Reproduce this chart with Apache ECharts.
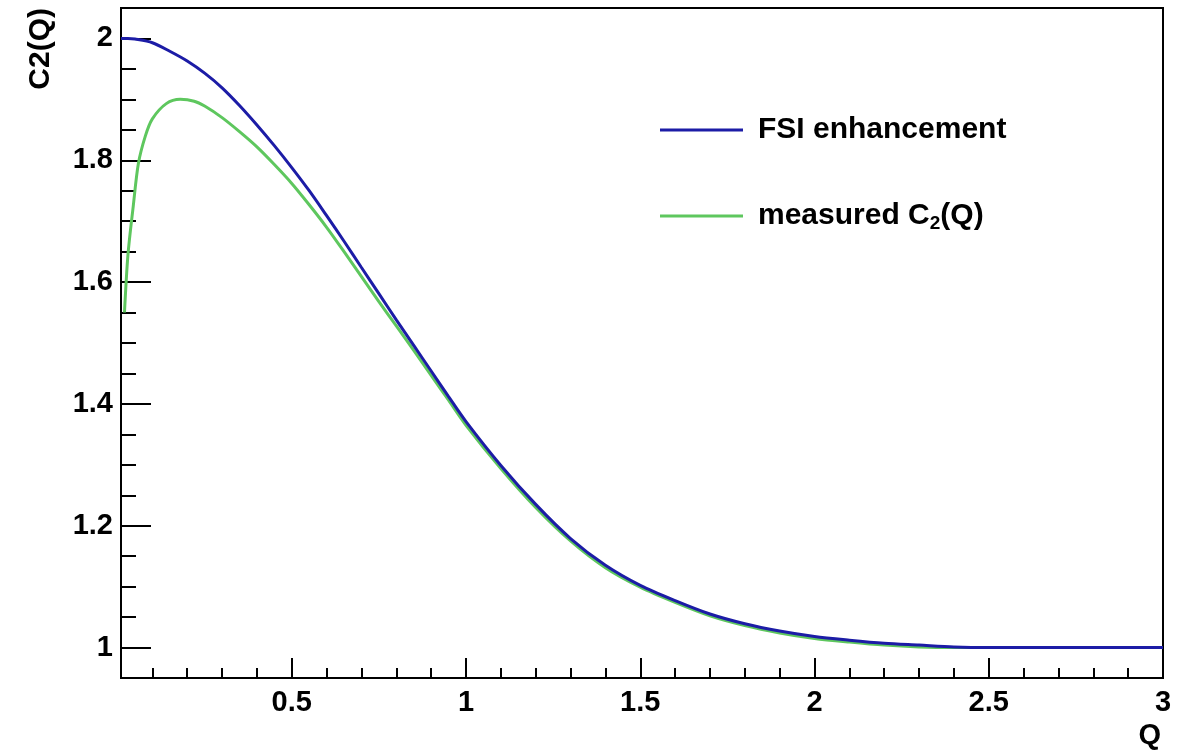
<!DOCTYPE html>
<html>
<head>
<meta charset="utf-8">
<script src="https://cdn.jsdelivr.net/npm/echarts@6/dist/echarts.min.js"></script>
<style>
html,body{margin:0;padding:0;background:#fff;}
#chart{width:1189px;height:750px;}
</style>
</head>
<body>
<div id="chart"></div>
<script>
// ---- data ----
const fsiQ = [0.01, 0.03, 0.05, 0.1, 0.15, 0.2, 0.25, 0.3, 0.35, 0.4, 0.45, 0.5, 0.55, 0.6, 0.65, 0.7, 0.75, 0.8, 0.85, 0.9, 0.95, 1.0, 1.1, 1.2, 1.3, 1.4, 1.5, 1.6, 1.7, 1.8, 1.9, 2.0, 2.1, 2.2, 2.3, 2.4, 2.5, 2.6, 2.8, 3.0];
const fsiC = [2.000, 2.000, 1.999, 1.993, 1.979, 1.963, 1.943, 1.919, 1.890, 1.858, 1.824, 1.788, 1.750, 1.709, 1.667, 1.624, 1.581, 1.538, 1.496, 1.454, 1.412, 1.371, 1.299, 1.235, 1.179, 1.135, 1.102, 1.077, 1.055, 1.039, 1.027, 1.018, 1.012, 1.007, 1.004, 1.001, 1.000, 1.000, 1.000, 1.000];

const measQ = [0.02, 0.03, 0.045, 0.06, 0.08, 0.1, 0.14, 0.18, 0.22, 0.25, 0.3, 0.35, 0.4, 0.45, 0.5, 0.55, 0.6, 0.65, 0.7, 0.75, 0.8, 0.85, 0.9, 0.95, 1.0, 1.1, 1.2, 1.3, 1.4, 1.5, 1.6, 1.7, 1.8, 1.9, 2.0, 2.1, 2.2, 2.3, 2.4, 2.5, 2.6, 2.8, 3.0];
const measC = [1.550, 1.645, 1.724, 1.795, 1.840, 1.868, 1.893, 1.900, 1.897, 1.889, 1.870, 1.847, 1.822, 1.793, 1.762, 1.727, 1.690, 1.650, 1.609, 1.568, 1.528, 1.488, 1.447, 1.406, 1.365, 1.294, 1.230, 1.175, 1.131, 1.099, 1.074, 1.052, 1.036, 1.024, 1.015, 1.009, 1.004, 1.001, 1.000, 1.000, 1.000, 1.000, 1.000];

const xMajorTicks = [0.5, 1, 1.5, 2, 2.5, 3];
const xMinorTicks = [0.1, 0.2, 0.3, 0.4, 0.6, 0.7, 0.8, 0.9, 1.1, 1.2, 1.3, 1.4, 1.6, 1.7, 1.8, 1.9, 2.1, 2.2, 2.3, 2.4, 2.6, 2.7, 2.8, 2.9];
const yMajorTicks = [1, 1.2, 1.4, 1.6, 1.8, 2];
const yMinorTicks = [1.05, 1.1, 1.15, 1.25, 1.3, 1.35, 1.45, 1.5, 1.55, 1.65, 1.7, 1.75, 1.85, 1.9, 1.95];

const seriesNames = ['FSI enhancement', 'measured C2(Q)'];
const xTitle = 'Q';
const yTitle = 'C2(Q)';

// ---- chart ----
const FONT = '"Liberation Sans", Arial, Helvetica, sans-serif';
const zip = (xs, ys) => xs.map((x, i) => [x, ys[i]]);
const chart = echarts.init(document.getElementById('chart'), null, {renderer: 'canvas'});

const xBase = {type: 'value', min: 0.01, max: 3, gridIndex: 0, position: 'bottom', offset: 0, splitLine: {show: false}};
const yBase = {type: 'value', min: 0.95, max: 2.05, gridIndex: 0, position: 'left', offset: 0, splitLine: {show: false}};
const fmt = v => String(Math.round(v * 10) / 10);

chart.setOption({
  backgroundColor: '#ffffff',
  animation: false,
  grid: {left: 121, top: 8, right: 26, bottom: 72, show: true, borderColor: '#000', borderWidth: 2, backgroundColor: 'transparent'},
  xAxis: [
    Object.assign({}, xBase, {
      axisLine: {show: true, onZero: false, lineStyle: {color: '#000', width: 2}},
      axisTick: {show: true, inside: true, length: 20, customValues: xMajorTicks, lineStyle: {color: '#000', width: 2}},
      axisLabel: {show: true, customValues: xMajorTicks, formatter: fmt, margin: 10, color: '#000', fontFamily: FONT, fontWeight: 'bold', fontSize: 29}
    }),
    Object.assign({}, xBase, {
      axisLine: {show: false},
      axisTick: {show: true, inside: true, length: 10, customValues: xMinorTicks, lineStyle: {color: '#000', width: 2}},
      axisLabel: {show: false}
    })
  ],
  yAxis: [
    Object.assign({}, yBase, {
      axisLine: {show: true, onZero: false, lineStyle: {color: '#000', width: 2}},
      axisTick: {show: true, inside: true, length: 30, customValues: yMajorTicks, lineStyle: {color: '#000', width: 2}},
      axisLabel: {show: true, customValues: yMajorTicks, formatter: fmt, margin: 8, color: '#000', fontFamily: FONT, fontWeight: 'bold', fontSize: 29}
    }),
    Object.assign({}, yBase, {
      axisLine: {show: false},
      axisTick: {show: true, inside: true, length: 15, customValues: yMinorTicks, lineStyle: {color: '#000', width: 2}},
      axisLabel: {show: false}
    })
  ],
  legend: {
    data: seriesNames,
    orient: 'vertical',
    left: 655,
    top: 110,
    icon: 'rect',
    itemWidth: 83,
    itemHeight: 3,
    itemGap: 54,
    formatter: function (name) {
      if (name === seriesNames[1]) return '{m|measured C}{s|2}{m|(Q)}';
      return '{m|' + name + '}';
    },
    textStyle: {
      color: '#000',
      fontFamily: FONT,
      fontWeight: 'bold',
      fontSize: 30,
      padding: [0, 0, 0, 10],
      rich: {
        m: {fontFamily: FONT, fontWeight: 'bold', fontSize: 30, color: '#000', lineHeight: 36},
        s: {fontFamily: FONT, fontWeight: 'bold', fontSize: 19, color: '#000', lineHeight: 36, padding: [15, 0, 0, 0]}
      }
    }
  },
  graphic: [
    {type: 'text', x: 41, y: 8, rotation: Math.PI / 2,
     style: {text: yTitle, align: 'right', verticalAlign: 'middle', fill: '#000', font: 'bold 30px ' + FONT}},
    {type: 'text', x: 1161, y: 736,
     style: {text: xTitle, align: 'right', verticalAlign: 'middle', fill: '#000', font: 'bold 29px ' + FONT}}
  ],
  series: [
    {
      name: seriesNames[1], type: 'line', xAxisIndex: 0, yAxisIndex: 0,
      data: zip(measQ, measC), showSymbol: false, smooth: 0.3,
      lineStyle: {color: '#5ec75e', width: 3}, itemStyle: {color: '#5ec75e'}, z: 2
    },
    {
      name: seriesNames[0], type: 'line', xAxisIndex: 0, yAxisIndex: 0,
      data: zip(fsiQ, fsiC), showSymbol: false, smooth: 0.3,
      lineStyle: {color: '#1c1ca6', width: 3}, itemStyle: {color: '#1c1ca6'}, z: 3
    }
  ]
});
</script>
</body>
</html>
